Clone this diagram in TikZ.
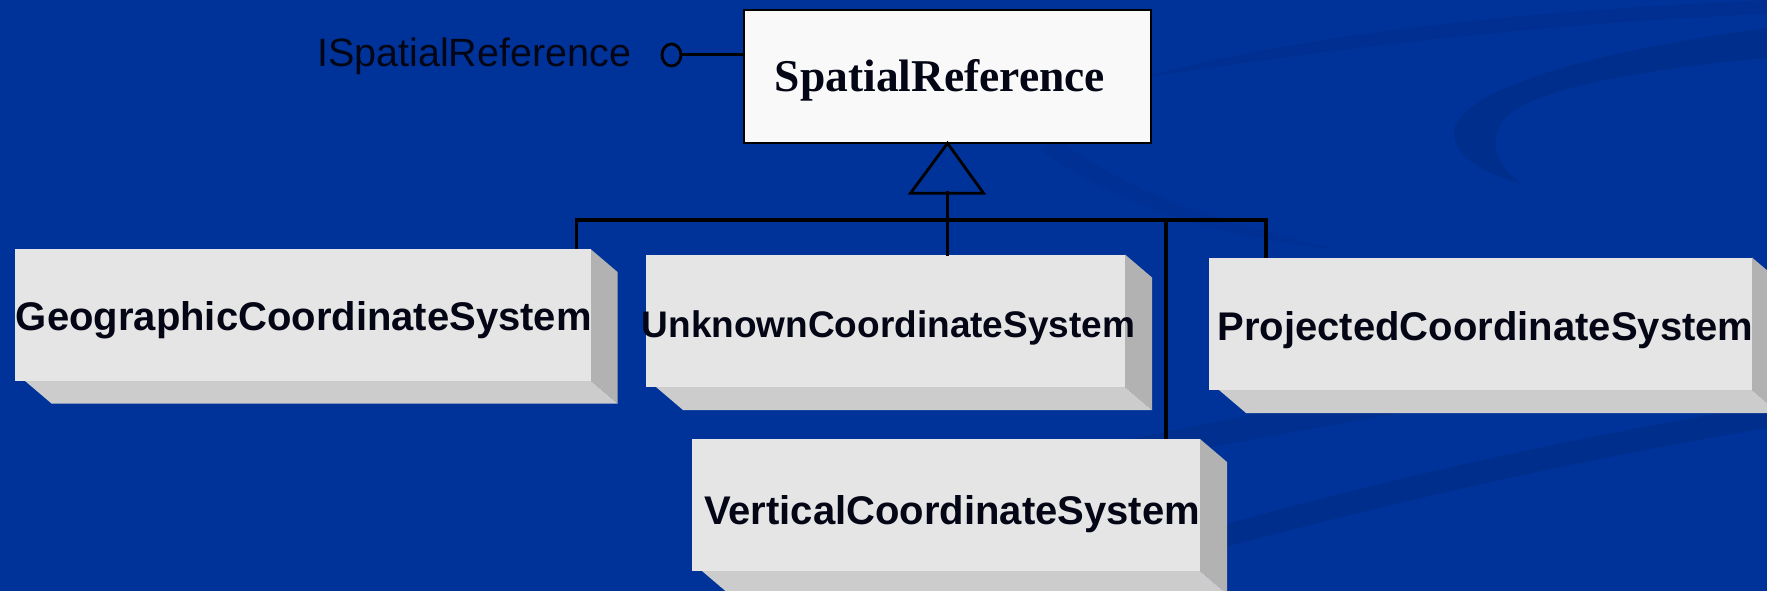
\documentclass[tikz,border=0pt]{standalone}
\usepackage{fontspec}
\setmainfont{Liberation Serif}
\setsansfont{Liberation Sans}
\usetikzlibrary{calc,shapes.geometric}

\definecolor{bgblue}{RGB}{0,51,153}
\definecolor{bandblue}{RGB}{0,45,138}
\definecolor{frontgray}{RGB}{229,229,229}
\definecolor{sidegray}{RGB}{178,178,178}
\definecolor{basegray}{RGB}{204,204,204}
\definecolor{classwhite}{RGB}{249,249,249}
\definecolor{ink}{RGB}{4,6,22}

\tikzset{
  face/.style={fill=frontgray, draw=none, inner sep=0pt, outer sep=0pt},
  sideface/.style={fill=sidegray},
  baseface/.style={fill=basegray},
  boxlabel/.style={font=\sffamily\bfseries\fontsize{40}{48}\selectfont, text=ink, inner sep=0pt, anchor=base west},
  classbox/.style={fill=classwhite, draw=black, line width=1.4pt, inner sep=0pt, outer sep=0pt},
  link/.style={draw=black, line width=3.6pt, line cap=rect},
  band/.style={fill=bandblue, draw=none},
}

% side and bottom faces of a raised slab behind a front face node
\newcommand\slabdepth[1]{%
  \fill[sideface] (#1.north east) -- ++(27,23) -- ([shift={(27,23)}]#1.south east) -- (#1.south east) -- cycle;
  \fill[baseface] ([xshift=10pt]#1.south west) -- ([shift={(37,23)}]#1.south west) -- ([shift={(27,23)}]#1.south east) -- (#1.south east) -- cycle;
}

\begin{document}
\begin{tikzpicture}[x=1pt,y=-1pt]
  \useasboundingbox (0,0) rectangle (1767,591);
  \clip (0,0) rectangle (1767,591);
  \fill[bgblue] (0,0) rectangle (1767,591);

  % background swooshes
  \fill[band, opacity=0.5] (1140,78) .. controls (1300,35) and (1500,12) .. (1767,0) -- (1767,14)
        .. controls (1520,25) and (1330,50) .. (1140,78) -- cycle;
  \fill[band, opacity=0.75] (1767,28) .. controls (1560,55) and (1440,100) .. (1455,140)
        .. controls (1462,165) and (1500,178) .. (1522,184)
        .. controls (1495,165) and (1488,140) .. (1505,118)
        .. controls (1535,88) and (1640,70) .. (1767,58) -- cycle;
  \fill[band, opacity=0.4] (1040,150) .. controls (1110,200) and (1200,235) .. (1340,250)
        .. controls (1230,225) and (1130,195) .. (1060,140) -- cycle;
  \fill[band, opacity=0.6] (1085,470) -- (1410,411) -- (1270,411) -- (1085,448) -- cycle;
  \fill[band, opacity=0.8] (1085,565) .. controls (1300,500) and (1500,450) .. (1767,405) -- (1767,428)
        .. controls (1520,470) and (1320,520) .. (1085,585) -- cycle;

  % superclass with its interface
  \node[classbox, minimum width=407pt, minimum height=133pt] (sref) at (947.5,76.7) {};
  \node[font=\bfseries\fontsize{45.5}{54}\selectfont, text=ink, inner sep=0pt, anchor=base] (srefL) at (940,92) {SpatialReference};
  \node[font=\sffamily\fontsize{39.5}{47}\selectfont, text=ink, inner sep=0pt, anchor=base west] (iface) at (317,67) {ISpatialReference};
  \node[draw=black, line width=2.8pt, ellipse, minimum width=19pt, minimum height=22pt, inner sep=0pt] (lolly) at (671.5,55) {};
  \draw[line width=3pt] (lolly.east) -- (lolly.east -| sref.west);

  % generalisation arrow
  \coordinate (tip) at (sref.south);
  \coordinate (triL) at ([shift={(-37,50)}]tip);
  \coordinate (triR) at ([shift={(36,50)}]tip);
  \coordinate (triM) at ([shift={(0,50)}]tip);
  \draw[line width=2.8pt, line join=miter] (tip) -- (triR) -- (triL) -- cycle;

  % subclasses
  \node[face, minimum width=576pt, minimum height=131.5pt] (geo) at (302.5,314.75) {};
  \node[face, minimum width=479pt, minimum height=132.5pt] (unk) at (885.5,320.75) {};
  \node[face, minimum width=543pt, minimum height=132.5pt] (prj) at (1480.5,323.75) {};
  \node[face, minimum width=508pt, minimum height=132pt] (vcs) at (946,505) {};
  \slabdepth{geo}
  \slabdepth{unk}
  \slabdepth{prj}
  \slabdepth{vcs}
  \node[face, minimum width=576pt, minimum height=131.5pt] at (geo) {};
  \node[face, minimum width=479pt, minimum height=132.5pt] at (unk) {};
  \node[face, minimum width=543pt, minimum height=132.5pt] at (prj) {};
  \node[face, minimum width=508pt, minimum height=132pt] at (vcs) {};

  \node[boxlabel] (geoL) at (15.8,330.5) {GeographicCoordinateSystem};
  \node[boxlabel, font=\sffamily\bfseries\fontsize{37}{44}\selectfont] (unkL) at (641.5,337.5) {UnknownCoordinateSystem};
  \node[boxlabel] (prjL) at (1217.5,340) {ProjectedCoordinateSystem};
  \node[boxlabel] (vcsL) at (704,524) {VerticalCoordinateSystem};

  % inheritance tree
  \coordinate (junction) at ([yshift=-27pt]triM);
  \coordinate (geoDrop) at ([xshift=-14pt]geo.north east);
  \coordinate (prjDrop) at ([xshift=57pt]prj.north west);
  \coordinate (vcsDrop) at ([xshift=-34pt]vcs.north east);
  \draw[link] (triM) -- (junction |- unk.north);
  \draw[link, line cap=butt] (geoDrop) -- (geoDrop |- junction) -- (prjDrop |- junction) -- (prjDrop);
  \draw[link, line cap=butt] (vcsDrop |- junction) -- (vcsDrop);
\end{tikzpicture}
\end{document}
